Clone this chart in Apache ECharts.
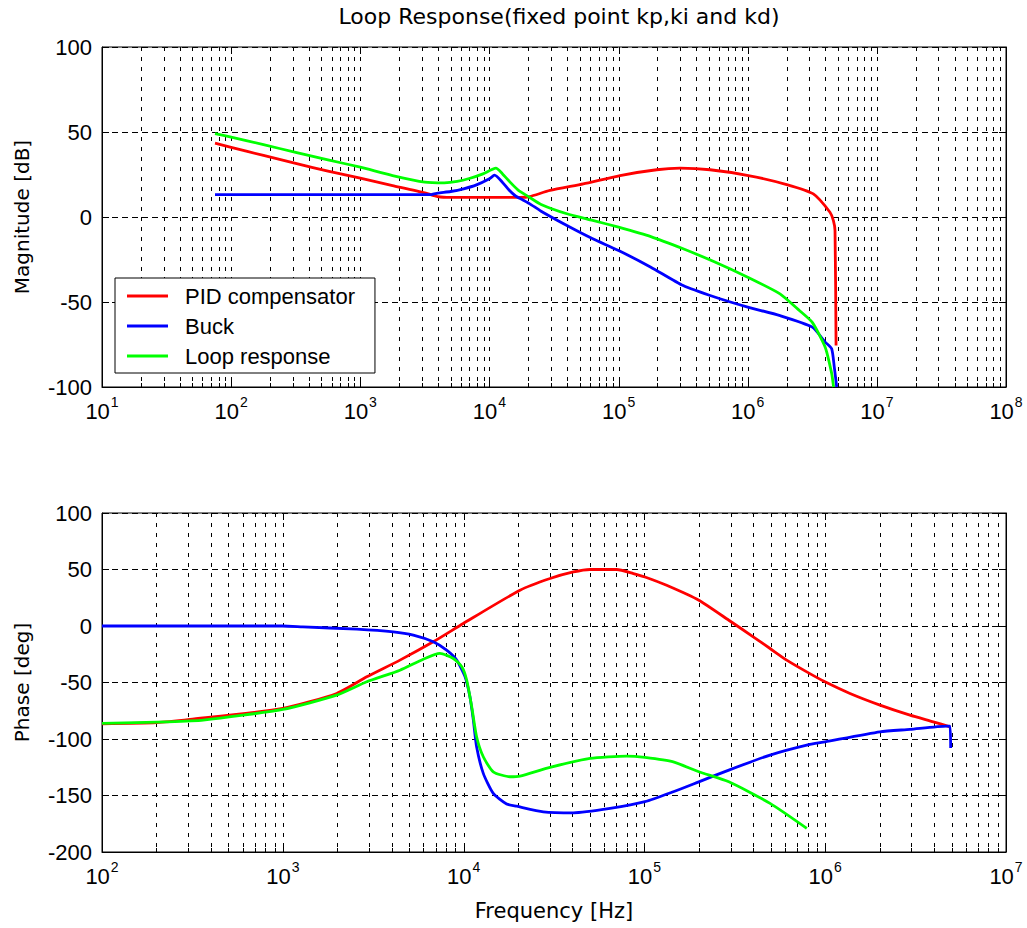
<!DOCTYPE html>
<html><head><meta charset="utf-8">
<script src="https://cdn.jsdelivr.net/npm/echarts@6/dist/echarts.min.js"></script>
<style>html,body{margin:0;padding:0;background:#fff}#c{width:1027px;height:928px}</style>
</head><body><div id="c"></div>
<script>
// ---------- data ----------
const seriesNames = ['PID compensator', 'Buck', 'Loop response'];
const seriesColors = ['#ff0000', '#0000ff', '#00ff00'];

// Magnitude [dB]
const pidMagFreq = [75, 100, 178, 316, 562, 1000, 1778, 3162, 3980, 5010, 10000, 17300, 20500, 29400, 53300, 102600, 197200, 299200, 510500, 1.012e6, 2.004e6, 3.221e6, 4.335e6, 4.603e6, 4.742e6, 4.831e6];
const pidMagDb   = [43.4, 41, 36.2, 31.5, 27, 22.8, 18.5, 14.2, 12, 11.5, 11.5, 11.5, 12, 15.6, 19.5, 24.4, 27.8, 28.7, 27.8, 24.4, 19.1, 13.6, 2.8, -2, -7.9, -75.6];

const buckMagFreq = [75, 3550, 3980, 5010, 6310, 7940, 10000, 10960, 12590, 14130, 15850, 17780, 20420, 25120, 39810, 63100, 100000, 177800, 316200, 562300, 1e6, 1.778e6, 3.162e6, 3.981e6, 4.467e6, 4.677e6, 4.887e6];
const buckMagDb   = [13.2, 13.2, 14, 15, 16.6, 18.9, 22.5, 24.6, 20.5, 16, 12.5, 10.4, 7.9, 3.4, -5, -12.8, -19.7, -29.5, -40.3, -47.2, -53, -58, -64.8, -73.6, -77.5, -88, -100];

const loopMagFreq = [75, 100, 178, 316, 562, 1000, 1778, 3162, 4467, 5623, 7079, 8913, 11220, 12590, 14450, 16600, 20420, 25120, 39810, 63100, 1e5, 177800, 316200, 562300, 1e6, 1.778e6, 2.512e6, 3.162e6, 3.981e6, 4.467e6, 4.624e6];
const loopMagDb   = [49, 47, 42.6, 38, 33.6, 29.3, 24.4, 20.5, 20.1, 20.9, 22.8, 25.4, 28.7, 25.5, 20.5, 16, 11.6, 7.4, 1.9, -2, -6, -11.5, -18.7, -26.6, -35.4, -45.2, -55, -62, -76.6, -92, -100];

// Phase [deg]
const pidPhFreq = [100, 200, 307, 1000, 1986, 2911, 4446, 6792, 9954, 20510, 30060, 40460, 50000, 70310, 86900, 100700, 132700, 200000, 293100, 399900, 495500, 612400, 790700, 997700, 1.371e6, 2.009e6, 2.944e6, 3.963e6, 4.898e6];
const pidPhDeg  = [-86.5, -85.5, -82.7, -73, -59.7, -45, -30.2, -14, 2.2, 31.7, 42, 47.8, 50, 50, 46.4, 43.4, 36, 22.8, 5.1, -9.6, -19.9, -30.2, -40.6, -49.4, -59.7, -70, -78.9, -84.8, -89.2];

const buckPhFreq = [100, 1000, 1290, 2564, 4083, 5272, 6792, 8054, 9162, 10190, 10840, 11320, 11800, 12850, 14590, 17300, 19680, 27610, 40460, 64570, 100700, 144500, 200000, 293100, 495500, 790700, 997700, 2.009e6, 2.944e6, 4.699e6, 4.898e6, 4.943e6];
const buckPhDeg  = [0, 0, -0.8, -2.8, -5.2, -8.1, -14, -21.4, -30.2, -45, -62.7, -83.3, -106.9, -130.4, -148.1, -157.5, -159.5, -164.4, -165.3, -161.4, -155.5, -146.7, -137.9, -127.5, -114.2, -105.4, -102.5, -93.6, -91.5, -88.6, -88.6, -108];

const loopPhFreq = [100, 228, 363, 1000, 1986, 2911, 4446, 5984, 7396, 8770, 9772, 10400, 11090, 11800, 12850, 14590, 18030, 20510, 30060, 50000, 79800, 100700, 144500, 200000, 293100, 495500, 790700];
const loopPhDeg  = [-86.2, -84.8, -83.3, -73.8, -61.2, -49.4, -39.1, -29.4, -24.3, -28.7, -36.1, -47.9, -71.5, -98, -115.7, -129, -133.4, -132.8, -125.1, -117.2, -115.1, -116.3, -120.2, -129, -137.9, -157, -179.1];

// Axes
const magRange = [-100, 100], magStep = 50;
const phRange = [-200, 100], phStep = 50;
const magDecades = [1, 8];   // 10^1 .. 10^8
const phDecades = [2, 7];    // 10^2 .. 10^7
const gridMultipliers = [1, 2, 3, 4, 5, 6, 7, 8, 9];

const titleText = 'Loop Response(fixed point kp,ki and kd)';
const magLabel = 'Magnitude [dB]';
const phLabel = 'Phase [deg]';
const freqLabel = 'Frequency [Hz]';

// ---------- helpers ----------
const zip = (a, b) => a.map((v, i) => [v, b[i]]);
function gridFreqs(dec) {
  const out = [];
  for (let k = dec[0]; k < dec[1]; k++) gridMultipliers.forEach(m => out.push(m * Math.pow(10, k)));
  out.push(Math.pow(10, dec[1]));
  return out;
}
const tickFont = 'Liberation Sans';
const labelRich = {
  b: {fontFamily: tickFont, fontSize: 22, lineHeight: 22, verticalAlign: 'bottom', color: '#000'},
  s: {fontFamily: tickFont, fontSize: 14, lineHeight: 14, verticalAlign: 'bottom', padding: [0, 0, 13, 1], color: '#000'}
};
const expFormatter = v => '{b|10}{s|' + Math.round(Math.log10(v)) + '}';

function vGridSeries(xi, yi, dec, yMin) {
  return {
    type: 'custom', xAxisIndex: xi, yAxisIndex: yi, silent: true, z: 1, clip: false,
    data: gridFreqs(dec).map(f => [f, yMin]),
    encode: {x: 0, y: 1},
    renderItem: (params, api) => {
      const cs = params.coordSys;
      const f = api.value(0);
      const x = Math.round(api.coord([f, yMin])[0]) + 0.5;
      const lg = Math.log10(f);
      const major = Math.abs(lg - Math.round(lg)) < 1e-6;
      const t = major ? 7 : 4;
      const top = cs.y, bot = cs.y + cs.height;
      return {type: 'group', children: [
        {type: 'line', shape: {x1: x, y1: top, x2: x, y2: bot}, style: {stroke: '#000', lineWidth: 1, lineDash: [4, 6]}},
        {type: 'line', shape: {x1: x, y1: bot, x2: x, y2: bot - t}, style: {stroke: '#000', lineWidth: 1}},
        {type: 'line', shape: {x1: x, y1: top, x2: x, y2: top + t}, style: {stroke: '#000', lineWidth: 1}}
      ]};
    }
  };
}
function xAxisDef(gi, dec, extra) {
  return Object.assign({
    gridIndex: gi, type: 'log', logBase: 10, min: Math.pow(10, dec[0]), max: Math.pow(10, dec[1]),
    axisLine: {show: true, onZero: false, lineStyle: {color: '#000', width: 1}},
    axisTick: {show: false}, splitLine: {show: false}, minorTick: {show: false},
    axisLabel: {formatter: expFormatter, rich: labelRich, margin: 13, showMinLabel: true, showMaxLabel: true, hideOverlap: false}
  }, extra || {});
}
function yAxisDef(gi, range, step, name) {
  return {
    gridIndex: gi, type: 'value', min: range[0], max: range[1], interval: step, position: 'left',
    axisLine: {show: true, onZero: false, lineStyle: {color: '#000', width: 1}},
    axisTick: {show: true, inside: true, length: 7, lineStyle: {color: '#000'}},
    axisLabel: {color: '#000', fontFamily: tickFont, fontSize: 22, margin: 10},
    splitLine: {show: true, lineStyle: {color: '#000', width: 1, type: [6, 4]}},
    name: name, nameLocation: 'middle', nameGap: 70,
    nameTextStyle: {fontFamily: 'DejaVu Sans', fontSize: 20, color: '#000'}
  };
}
function yAxisRight(gi, range, step) {
  return {
    gridIndex: gi, type: 'value', min: range[0], max: range[1], interval: step, position: 'right',
    axisLine: {show: true, onZero: false, lineStyle: {color: '#000', width: 1}},
    axisTick: {show: true, inside: true, length: 7, lineStyle: {color: '#000'}},
    axisLabel: {show: false}, splitLine: {show: false}
  };
}
function lineSeries(idx, xi, yi, freq, vals) {
  return {
    name: seriesNames[idx], type: 'line', xAxisIndex: xi, yAxisIndex: yi,
    data: zip(freq, vals), showSymbol: false, symbol: 'none', z: 3,
    smooth: 0.2,
    itemStyle: {color: seriesColors[idx]},
    lineStyle: {color: seriesColors[idx], width: 2.8, join: 'round'}
  };
}

const chart = echarts.init(document.getElementById('c'), null, {renderer: 'svg'});
chart.setOption({
  animation: false,
  backgroundColor: '#fff',
  title: {
    text: titleText, left: 559, top: 5, textAlign: 'center', padding: 0,
    textStyle: {fontFamily: 'DejaVu Sans', fontSize: 22, fontWeight: 'normal', color: '#000'}
  },
  grid: [
    {left: 102, top: 47, width: 904, height: 340, show: true, borderColor: '#000', borderWidth: 1, backgroundColor: 'transparent', containLabel: false, outerBoundsMode: 'none'},
    {left: 102, top: 513, width: 904, height: 339, show: true, borderColor: '#000', borderWidth: 1, backgroundColor: 'transparent', containLabel: false, outerBoundsMode: 'none'}
  ],
  xAxis: [
    xAxisDef(0, magDecades),
    xAxisDef(1, phDecades, {name: freqLabel, nameLocation: 'middle', nameGap: 48,
      nameTextStyle: {fontFamily: 'DejaVu Sans', fontSize: 21, color: '#000'}})
  ],
  yAxis: [
    yAxisDef(0, magRange, magStep, magLabel),
    yAxisRight(0, magRange, magStep),
    yAxisDef(1, phRange, phStep, phLabel),
    yAxisRight(1, phRange, phStep)
  ],
  legend: {
    data: seriesNames, left: 115, top: 278, orient: 'vertical', selectedMode: false,
    icon: 'rect', itemWidth: 41, itemHeight: 3, itemGap: 0,
    padding: [3, 20, 2, 12], backgroundColor: '#fff', borderColor: '#000', borderWidth: 1, borderRadius: 0,
    z: 10,
    textStyle: {fontFamily: tickFont, fontSize: 22, color: '#000', lineHeight: 30, padding: [0, 0, 0, 12]}
  },
  series: [
    vGridSeries(0, 0, magDecades, magRange[0]),
    vGridSeries(1, 2, phDecades, phRange[0]),
    lineSeries(0, 0, 0, pidMagFreq, pidMagDb),
    lineSeries(1, 0, 0, buckMagFreq, buckMagDb),
    lineSeries(2, 0, 0, loopMagFreq, loopMagDb),
    lineSeries(0, 1, 2, pidPhFreq, pidPhDeg),
    lineSeries(1, 1, 2, buckPhFreq, buckPhDeg),
    lineSeries(2, 1, 2, loopPhFreq, loopPhDeg)
  ]
});
</script>
</body></html>
